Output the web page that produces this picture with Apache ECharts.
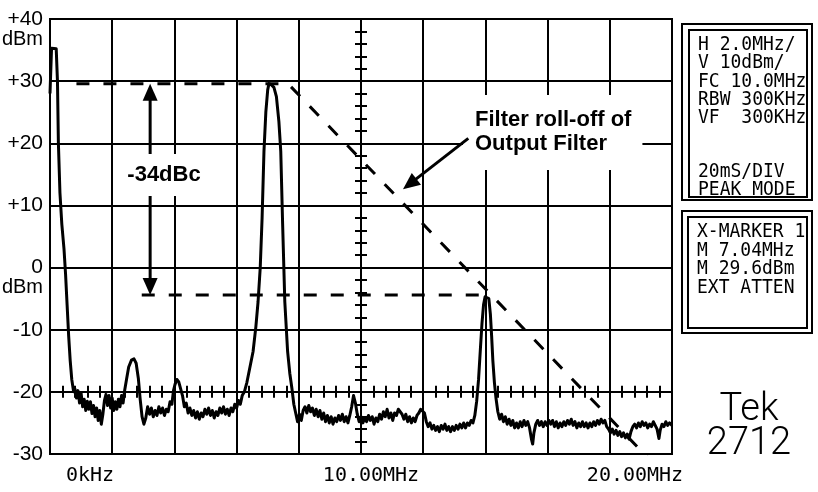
<!DOCTYPE html>
<html>
<head>
<meta charset="utf-8">
<script src="https://cdn.jsdelivr.net/npm/echarts@6/dist/echarts.min.js"></script>
<style>
  html, body { margin: 0; padding: 0; background: #fff; }
  #chart { width: 818px; height: 492px; }
</style>
</head>
<body>
<div id="chart"></div>
<script>
// Spectrum analyser trace: [frequency MHz, level dBm]
const spectrum = [
  [0, 28], [0.05, 35.3], [0.2, 35.2], [0.24, 30], [0.27, 20], [0.32, 12], [0.38, 7], [0.45, 3],
  [0.5, -1], [0.55, -6], [0.6, -11], [0.65, -15], [0.7, -18], [0.76, -20],
  [0.8, -19.5], [0.85, -21], [0.9, -19.8], [0.95, -21.8], [1.0, -20.2], [1.05, -22.4], [1.1, -21.2],
  [1.15, -23], [1.2, -21.5], [1.25, -22.8], [1.3, -21.6], [1.35, -23.5], [1.4, -22.2], [1.45, -24],
  [1.5, -22.6], [1.55, -24.6], [1.6, -23], [1.65, -25.2], [1.7, -23.6], [1.75, -21.4], [1.8, -20.4],
  [1.85, -22.2], [1.9, -20.6], [1.95, -22.6], [2.0, -21], [2.05, -23], [2.1, -21.6], [2.15, -22.8],
  [2.2, -21.2], [2.25, -22.4], [2.3, -20.6], [2.35, -21.8], [2.4, -19.8],
  [2.46, -18], [2.53, -16], [2.62, -14.9], [2.7, -14.7], [2.77, -15.4], [2.84, -17.8], [2.9, -21.2],
  [2.96, -24], [3.02, -25.2], [3.08, -24.2], [3.14, -22.4], [3.2, -23.6], [3.26, -22.6], [3.32, -24],
  [3.38, -23], [3.44, -23.8], [3.5, -22.4], [3.56, -23.4], [3.62, -22.6], [3.68, -23.8], [3.74, -22.8],
  [3.8, -23.2], [3.86, -21.6], [3.92, -22], [3.97, -19.8], [4.02, -18.8], [4.08, -18.0], [4.14, -18.4],
  [4.2, -18.2], [4.26, -20.6], [4.32, -22.4], [4.38, -21.8], [4.44, -23.4], [4.5, -22.6], [4.56, -23.8],
  [4.62, -23], [4.68, -24.2], [4.74, -23.2], [4.8, -24.4], [4.86, -23.4], [4.92, -24], [4.98, -22.8],
  [5.04, -23.6], [5.1, -22.6], [5.16, -23.8], [5.22, -23], [5.28, -24.2], [5.34, -23.2], [5.4, -23.8],
  [5.46, -22.6], [5.52, -23.4], [5.58, -22.4], [5.64, -23.6], [5.7, -22.8], [5.76, -23.8], [5.82, -22.6],
  [5.88, -23.2], [5.94, -22], [6.0, -22.6], [6.06, -21.4], [6.12, -22], [6.18, -20.6],
  [6.25, -20], [6.33, -18.5], [6.43, -16], [6.53, -13.5], [6.62, -9.5], [6.69, -5.5], [6.76, 0],
  [6.82, 8], [6.88, 18.7], [6.94, 25], [7.0, 28.6], [7.04, 29.6], [7.12, 29.4], [7.2, 29.0],
  [7.28, 27.5], [7.36, 23.5], [7.42, 18.7], [7.48, 7], [7.55, -5.5], [7.64, -13.5], [7.71, -17],
  [7.78, -19.5], [7.84, -22],
  [7.9, -23.4], [7.96, -24.8], [8.02, -23.6], [8.08, -24.6], [8.14, -23], [8.2, -22.4], [8.26, -23.4],
  [8.32, -22.2], [8.38, -23.2], [8.44, -22.6], [8.5, -23.8], [8.56, -22.8], [8.62, -24], [8.68, -23],
  [8.74, -24.4], [8.8, -23.4], [8.86, -24.8], [8.92, -23.8], [8.98, -25], [9.04, -24], [9.1, -25.2],
  [9.16, -24.2], [9.22, -24.8], [9.28, -23.8], [9.34, -24.6], [9.4, -23.6], [9.46, -24.8], [9.52, -24],
  [9.58, -25], [9.64, -23.8], [9.7, -22.4], [9.76, -20.6], [9.82, -21.8], [9.88, -23.6], [9.94, -24.8],
  [10.0, -24], [10.06, -25], [10.12, -24.2], [10.18, -24.8], [10.24, -23.8], [10.3, -24.6], [10.36, -24],
  [10.42, -25.2], [10.48, -24.2], [10.54, -24.8], [10.6, -23.6], [10.66, -24.4], [10.72, -23.2],
  [10.78, -24], [10.84, -22.8], [10.9, -24.2], [10.96, -23.4], [11.02, -24.6], [11.08, -23.4],
  [11.14, -23.8], [11.2, -22.8], [11.26, -22.6], [11.32, -23.6], [11.38, -24.4], [11.44, -23.6],
  [11.5, -24.8], [11.56, -24], [11.62, -25], [11.68, -24.2], [11.74, -24.8], [11.8, -23.8],
  [11.86, -23.4], [11.92, -22.8], [11.98, -22.6], [12.04, -23.4], [12.1, -24.8], [12.16, -25.6],
  [12.22, -25], [12.28, -26], [12.34, -25.4], [12.4, -26.2], [12.46, -25.6], [12.52, -26.4],
  [12.58, -25.4], [12.64, -26], [12.7, -25.2], [12.76, -26.2], [12.82, -25.6], [12.88, -26.4],
  [12.94, -25.6], [13.0, -26.2], [13.06, -25.4], [13.12, -26], [13.18, -25.2], [13.24, -25.8],
  [13.3, -25], [13.36, -25.8], [13.42, -25], [13.48, -25.4], [13.54, -24.6], [13.6, -25], [13.66, -23.8],
  [13.72, -21.5], [13.78, -18], [13.84, -13], [13.89, -9], [13.94, -6], [13.99, -4.7], [14.05, -4.4],
  [14.11, -5], [14.16, -7.5], [14.2, -11], [14.24, -15], [14.29, -18.5], [14.34, -21], [14.4, -23.2],
  [14.46, -24.4], [14.52, -23.6], [14.58, -24.8], [14.64, -24], [14.7, -25.2], [14.76, -24.4],
  [14.82, -25.4], [14.88, -24.6], [14.94, -25.8], [15.0, -25], [15.06, -25.8], [15.12, -24.8],
  [15.18, -25.6], [15.24, -24.6], [15.3, -25.4], [15.36, -24.8], [15.42, -25.8], [15.48, -27.6],
  [15.52, -28.4], [15.56, -26.6], [15.62, -25.2], [15.68, -24.6], [15.74, -25.4], [15.8, -24.8],
  [15.86, -25.6], [15.92, -24.8], [15.98, -25.4], [16.04, -24.6], [16.1, -25.2], [16.16, -24.6],
  [16.22, -25.6], [16.28, -24.8], [16.34, -25.8], [16.4, -25], [16.46, -25.6], [16.52, -24.8],
  [16.58, -25.4], [16.64, -24.6], [16.7, -25.2], [16.76, -24.4], [16.82, -25.4], [16.88, -24.8],
  [16.94, -25.8], [17.0, -25], [17.06, -25.6], [17.12, -24.8], [17.18, -25.6], [17.24, -25],
  [17.3, -25.8], [17.36, -25], [17.42, -25.6], [17.48, -24.8], [17.54, -25.4], [17.6, -24.6],
  [17.66, -25.2], [17.72, -24.4], [17.78, -25], [17.84, -24.6], [17.9, -25.6], [17.96, -26],
  [18.02, -26.6], [18.08, -26], [18.14, -26.8], [18.2, -26.2], [18.26, -27], [18.32, -26.4],
  [18.38, -27.2], [18.44, -26.6], [18.5, -27.4], [18.56, -26.8], [18.62, -27.6], [18.68, -26.4],
  [18.74, -25.6], [18.8, -25.2], [18.86, -25.8], [18.92, -25], [18.98, -25.6], [19.04, -24.8],
  [19.1, -25.4], [19.16, -25], [19.22, -25.8], [19.28, -25.2], [19.34, -25.6], [19.4, -24.8],
  [19.46, -25.4], [19.52, -26], [19.58, -27.5], [19.62, -26.2], [19.68, -25.2], [19.74, -25.6],
  [19.8, -24.8], [19.86, -25.4], [19.92, -25], [20.0, -25.4]
];

// Marker readout and harmonic level
const markerFreq = 7.04;
const markerLevel = 29.6;
const harmonicDbc = -34;
const harmonicLevel = markerLevel + harmonicDbc;

// Reference lines: carrier level continuing into the output filter roll-off, and harmonic level
const carrierRolloff = [[0.85, markerLevel], [7.65, markerLevel], [19.3, -31]];
const harmonicRef = [[2.95, harmonicLevel], [13.95, harmonicLevel]];

// Arrows: [fromFreq, fromLevel, toFreq, toLevel]
const arrows = [
  [3.22, 14.3, 3.22, markerLevel],
  [3.22, 14.3, 3.22, harmonicLevel],
  [13.45, 20.8, 11.35, 12.6]
];

// Axis tick labels
const xLabelValues = [0, 10, 20];
const xLabelTexts = ['0kHz', '10.00MHz', '20.00MHz'];
const xLabelStyles = ['l', 'c', 'r'];
const yLabelValues = [40, 30, 20, 10, 0, -10, -20, -30];
const yLabelTexts = ['+40', '+30', '+20', '+10', '0', '-10', '-20', '-30'];
const yLabelUnits = ['dBm', '', '', '', 'dBm', '', '', ''];

// Instrument readouts
const settingsLines = ['H 2.0MHz/', 'V 10dBm/', 'FC 10.0MHz', 'RBW 300KHz', 'VF  300KHz', '', '', '20mS/DIV', 'PEAK MODE'];
const markerLines = ['X-MARKER 1', 'M ' + markerFreq.toFixed(2) + 'MHz', 'M ' + markerLevel.toFixed(1) + 'dBm', 'EXT ATTEN'];
const instrumentName = ['Tek', '2712'];

const chart = echarts.init(document.getElementById('chart'), null, { renderer: 'canvas' });

const black = '#000';
const monoFont = '"DejaVu Sans Mono", "Liberation Mono", monospace';
const sansFont = '"Liberation Sans", Arial, sans-serif';

const tickAxisCommon = {
  type: 'value',
  axisLabel: { show: false },
  splitLine: { show: false },
  axisLine: { show: true, lineStyle: { color: black, width: 2 } },
  axisTick: { show: true, length: 6, lineStyle: { color: black, width: 2 } }
};

function xAxisLabel(v) {
  const i = xLabelValues.indexOf(v);
  if (i < 0) return '';
  return '{' + xLabelStyles[i] + '|' + xLabelTexts[i] + '}';
}
function yAxisLabel(v) {
  const i = yLabelValues.indexOf(v);
  if (i < 0) return '';
  return '{v|' + yLabelTexts[i] + '}\n{u|' + (yLabelUnits[i] || ' ') + '}';
}

const xRich = {};
const xPads = { l: [0, 0, 0, 80], c: [0, 0, 0, 20], r: [0, 74, 0, 0] };
Object.keys(xPads).forEach(k => {
  xRich[k] = { fontFamily: monoFont, fontSize: 20, color: black, padding: xPads[k] };
});

const option = {
  animation: false,
  backgroundColor: '#fff',
  grid: {
    left: 50, top: 19, width: 622, height: 435,
    outerBoundsMode: 'none', containLabel: false,
    show: true, borderColor: black, borderWidth: 2, backgroundColor: 'transparent'
  },
  xAxis: [
    {
      type: 'value', min: 0, max: 20, interval: 2,
      axisLine: { show: false }, axisTick: { show: false },
      splitLine: { show: true, lineStyle: { color: black, width: 2 } },
      axisLabel: { interval: 0, margin: 12, formatter: xAxisLabel, rich: xRich }
    },
    Object.assign({}, tickAxisCommon, {
      min: 0, max: 20, interval: 0.4,
      axisLine: { show: true, onZero: true, onZeroAxisIndex: 1, lineStyle: { color: black, width: 2 } },
      axisTick: Object.assign({}, tickAxisCommon.axisTick, { inside: true })
    }),
    Object.assign({}, tickAxisCommon, {
      min: 0, max: 20, interval: 0.4,
      axisLine: { show: true, onZero: true, onZeroAxisIndex: 1, lineStyle: { color: black, width: 2 } },
      axisTick: Object.assign({}, tickAxisCommon.axisTick, { inside: false })
    }),
    { type: 'value', min: -10, max: 10, show: false }
  ],
  yAxis: [
    {
      type: 'value', min: -30, max: 40, interval: 10,
      axisLine: { show: false }, axisTick: { show: false },
      splitLine: { show: true, lineStyle: { color: black, width: 2 } },
      axisLabel: {
        margin: 7, formatter: yAxisLabel, padding: [20, 0, 0, 0], lineHeight: 20,
        rich: {
          v: { fontFamily: sansFont, fontSize: 21, color: black, lineHeight: 20, align: 'right' },
          u: { fontFamily: sansFont, fontSize: 20, color: black, lineHeight: 20, align: 'right' }
        }
      }
    },
    { type: 'value', min: -10, max: 60, show: false },
    Object.assign({}, tickAxisCommon, {
      min: -30, max: 40, interval: 2,
      axisLine: { show: true, onZero: true, onZeroAxisIndex: 3, lineStyle: { color: black, width: 2 } },
      axisTick: Object.assign({}, tickAxisCommon.axisTick, { inside: true })
    }),
    Object.assign({}, tickAxisCommon, {
      min: -30, max: 40, interval: 2,
      axisLine: { show: true, onZero: true, onZeroAxisIndex: 3, lineStyle: { color: black, width: 2 } },
      axisTick: Object.assign({}, tickAxisCommon.axisTick, { inside: false })
    })
  ],
  series: [
    {
      type: 'line', name: 'carrier / roll-off', data: carrierRolloff,
      xAxisIndex: 0, yAxisIndex: 0, symbol: 'none', silent: true, clip: true,
      lineStyle: { color: black, width: 3, type: [13, 14] }
    },
    {
      type: 'line', name: 'harmonic', data: harmonicRef,
      xAxisIndex: 0, yAxisIndex: 0, symbol: 'none', silent: true,
      lineStyle: { color: black, width: 3, type: [13, 14] }
    },
    {
      type: 'line', name: 'trace', data: spectrum,
      xAxisIndex: 0, yAxisIndex: 0, symbol: 'none', silent: true,
      lineStyle: { color: black, width: 3, join: 'round' }
    },
    {
      type: 'custom', name: 'arrows', data: arrows,
      xAxisIndex: 0, yAxisIndex: 0, silent: true,
      encode: { x: [0, 2], y: [1, 3] },
      renderItem: function (params, api) {
        const a = api.coord([api.value(0), api.value(1)]);
        const b = api.coord([api.value(2), api.value(3)]);
        const dx = b[0] - a[0], dy = b[1] - a[1];
        const len = Math.sqrt(dx * dx + dy * dy);
        const ux = dx / len, uy = dy / len;
        const h = 17, w = 7.5;
        const bx = b[0] - ux * h, by = b[1] - uy * h;
        return {
          type: 'group',
          children: [
            { type: 'line', shape: { x1: a[0], y1: a[1], x2: bx + ux, y2: by + uy }, style: { stroke: black, lineWidth: 3 } },
            { type: 'polygon', shape: { points: [[b[0], b[1]], [bx - uy * w, by + ux * w], [bx + uy * w, by - ux * w]] }, style: { fill: black } }
          ]
        };
      }
    }
  ],
  graphic: {
    elements: [
      {
        type: 'text', z: 1, x: 463, y: 95,
        style: {
          text: 'Filter roll-off of\nOutput Filter', x: 0, y: 0,
          font: 'bold 22px ' + sansFont, fill: black, lineHeight: 24,
          textAlign: 'left', textVerticalAlign: 'top',
          backgroundColor: '#fff', padding: [13, 11, 14, 12]
        }
      },
      {
        type: 'text', z: 10, x: 164, y: 175,
        style: {
          text: '-34dBc', x: 0, y: 0,
          font: 'bold 22px ' + sansFont, fill: black,
          textAlign: 'center', textVerticalAlign: 'middle',
          backgroundColor: '#fff', padding: [10, 6, 10, 6]
        }
      },
      { type: 'rect', shape: { x: 682, y: 24, width: 130, height: 176 }, style: { fill: 'none', stroke: black, lineWidth: 2 } },
      { type: 'rect', shape: { x: 689, y: 30, width: 118, height: 167 }, style: { fill: 'none', stroke: black, lineWidth: 2 } },
      {
        type: 'text', x: 698, y: 36, scaleY: 1.12,
        style: {
          text: settingsLines.join('\n'), x: 0, y: 0,
          font: '18px ' + monoFont, fill: black, lineHeight: 16.2,
          textAlign: 'left', textVerticalAlign: 'top'
        }
      },
      { type: 'rect', shape: { x: 682, y: 211, width: 130, height: 122 }, style: { fill: 'none', stroke: black, lineWidth: 2 } },
      { type: 'rect', shape: { x: 688, y: 217, width: 119, height: 111 }, style: { fill: 'none', stroke: black, lineWidth: 2 } },
      {
        type: 'text', x: 697, y: 223, scaleY: 1.12,
        style: {
          text: markerLines.join('\n'), x: 0, y: 0,
          font: '18px ' + monoFont, fill: black, lineHeight: 16.5,
          textAlign: 'left', textVerticalAlign: 'top'
        }
      },
      {
        type: 'text', x: 749, y: 393,
        style: {
          text: instrumentName.join('\n'), x: 0, y: 0,
          font: '300 38px Roboto, "Noto Sans", sans-serif', fill: black, lineHeight: 34,
          textAlign: 'center', textVerticalAlign: 'top'
        }
      }
    ]
  }
};

chart.setOption(option);
</script>
</body>
</html>
